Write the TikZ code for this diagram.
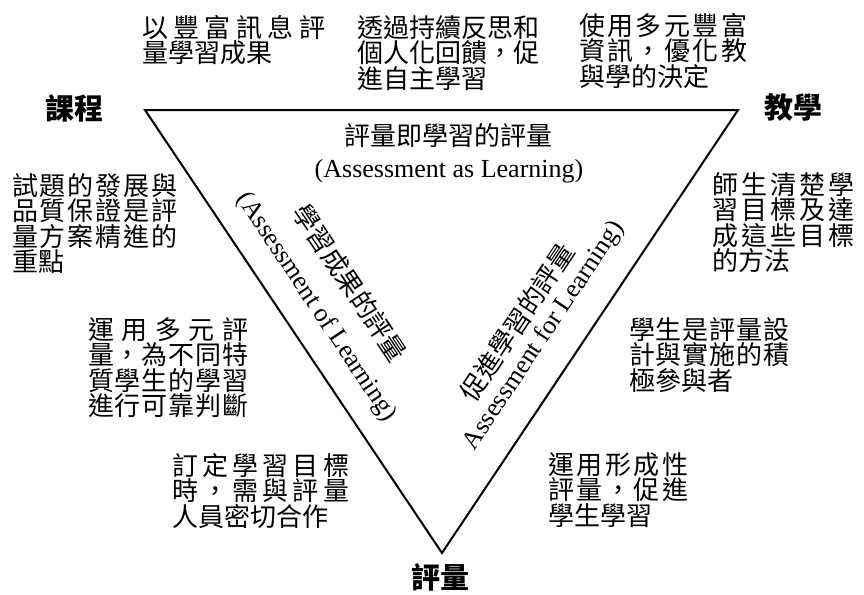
\documentclass[tikz,border=0pt]{standalone}
\usepackage{fontspec}
\setmainfont{Liberation Serif}
\newfontfamily\cjk{Noto Sans CJK TC}
% a line spread out to the full text width
\newcommand\jline[1]{\makebox[\linewidth][s]{\spaceskip=0pt plus 1fil\relax#1}}
\tikzset{
  note/.style={font=\cjk\fontsize{26}{25.5}\selectfont, inner sep=0pt, anchor=north west, align=left},
  corner/.style={font=\cjk\bfseries\fontsize{29}{29}\selectfont, inner sep=0pt},
  title/.style={font=\cjk\fontsize{26}{26}\selectfont, inner sep=0pt},
  eng/.style={font=\fontsize{26}{26}\selectfont, inner sep=0pt},
}
\begin{document}
\begin{tikzpicture}[x=1pt,y=-1pt]
    \useasboundingbox (0,0) rectangle (864,594);

    % the triangle
    \coordinate (curriculum) at (145,110);
    \coordinate (teaching) at (738,110);
    \coordinate (assessment) at (442,553);
    \draw[line width=2pt] (curriculum) -- (teaching) -- (assessment) -- cycle;

    \node[corner] (currlabel) at (74,108) {課程};
    \node[corner] (teachlabel) at (793,108) {教學};
    \node[corner] (assesslabel) at (440,577) {評量};

    % one label along each side
    \node[title] (aslabel) at (448,136) {評量即學習的評量};
    \node[eng] (asen) at (449,171) {(Assessment as Learning)};
    \node[title, rotate=-56.3] (oflabel) at (350,283) {學習成果的評量};
    \node[eng, rotate=-56.3] (ofen) at (316,307) {(Assessment of Learning)};
    \node[title, rotate=56.3] (forlabel) at (517,322) {促進學習的評量};
    \node[eng, rotate=56.3] (foren) at (544,336) {Assessment for Learning)};

    % notes above the top side
    \node[note, text width=183pt] (richinfo) at (142,15)
        {\jline{以 豐 富 訊 息 評}\\量學習成果};
    \node[note] (reflect) at (357,15)
        {透過持續反思和\\個人化回饋，促\\進自主學習};
    \node[note, text width=168pt] (decide) at (579,13)
        {\jline{使 用 多 元 豐 富}\\\jline{資 訊 ， 優 化 教}\\與學的決定};

    % notes on the left
    \node[note, text width=165pt] (quality) at (12,173)
        {\jline{試 題 的 發 展 與}\\\jline{品 質 保 證 是 評}\\\jline{量 方 案 精 進 的}\\重點};
    \node[note, text width=160pt] (diverse) at (88,317)
        {\jline{運 用 多 元 評}\\\jline{量 ， 為 不 同 特}\\\jline{質 學 生 的 學 習}\\\jline{進 行 可 靠 判 斷}};
    \node[note, text width=177pt] (goals) at (172,453)
        {\jline{訂 定 學 習 目 標}\\\jline{時 ， 需 與 評 量}\\人員密切合作};

    % notes on the right
    \node[note, text width=142pt] (clear) at (712,172)
        {\jline{師 生 清 楚 學}\\\jline{習 目 標 及 達}\\\jline{成 這 些 目 標}\\的方法};
    \node[note, text width=160pt] (active) at (629,317)
        {\jline{學 生 是 評 量 設}\\\jline{計 與 實 施 的 積}\\極參與者};
    \node[note, text width=140pt] (formative) at (548,452)
        {\jline{運 用 形 成 性}\\\jline{評 量 ， 促 進}\\學生學習};
\end{tikzpicture}
\end{document}
